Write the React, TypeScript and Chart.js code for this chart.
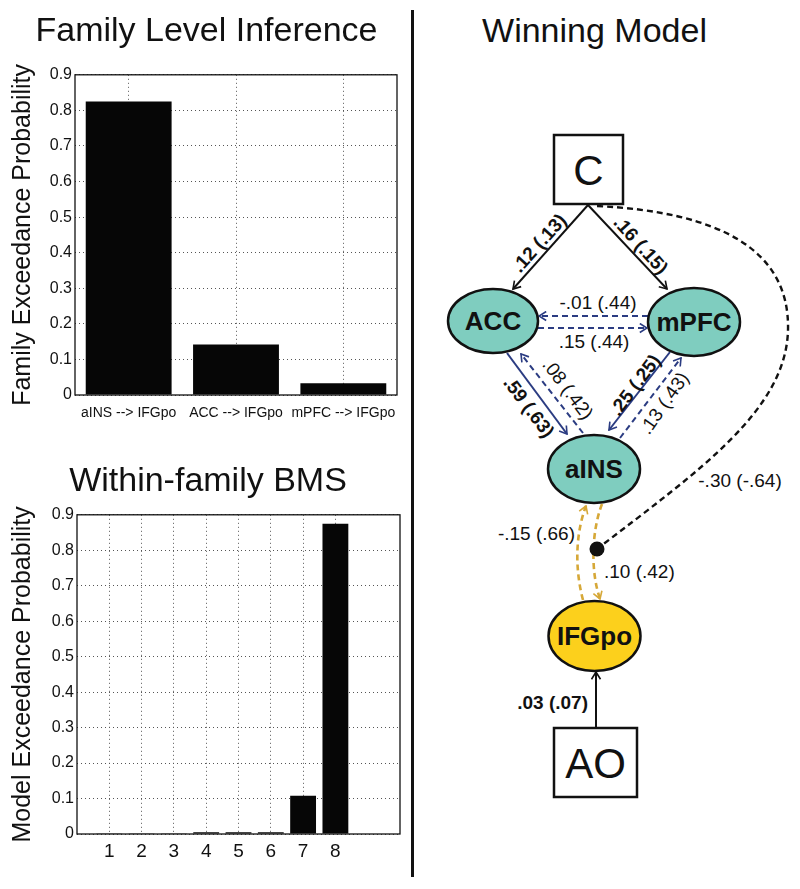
import React, { useEffect, useRef } from 'react';
import { Chart, registerables } from 'chart.js';

Chart.register(...registerables);

// ---------- data ----------
const familyLabels = ['aINS --> IFGpo', 'ACC --> IFGpo', 'mPFC --> IFGpo'];
const familyProbs = [0.825, 0.142, 0.033];

const modelLabels = [1, 2, 3, 4, 5, 6, 7, 8];
const modelProbs = [0.002, 0.002, 0.002, 0.005, 0.005, 0.005, 0.108, 0.875];

const yTickLabels = ['0', '0.1', '0.2', '0.3', '0.4', '0.5', '0.6', '0.7', '0.8', '0.9'];

const nodeNames = ['ACC', 'mPFC', 'aINS', 'IFGpo'];
const inputNames = ['C', 'AO'];
const edgeWeights = [
  '.12 (.13)', '.16 (.15)', '-.01 (.44)', '.15 (.44)', '.59 (.63)', '.08 (.42)',
  '.25 (.25)', '.13 (.43)', '-.15 (.66)', '.10 (.42)', '.03 (.07)', '-.30 (-.64)',
];

// ---------- styles ----------
const FONT = '"Liberation Sans", Arial, Helvetica, sans-serif';
const INK = '#111111';
const BAR = '#060606';
const GRID = '#555555';
const TEAL = '#7FCDBF';
const GOLD_FILL = '#FCD01C';
const NAVY = '#2B3C82';
const GOLD = '#D6A838';

const framePlugin = {
  id: 'frame',
  afterDatasetsDraw(chart: any) {
    const { ctx, chartArea } = chart;
    const { left, top, right, bottom } = chartArea;
    ctx.save();
    ctx.strokeStyle = INK;
    ctx.lineWidth = 1.3;
    ctx.setLineDash([]);
    ctx.strokeRect(left, top, right - left, bottom - top);
    ctx.restore();
  },
};

function yAxis(title: string, width: number, titlePad: number) {
  return {
    min: 0,
    max: 0.9,
    ticks: {
      stepSize: 0.1,
      callback: (v: number) => yTickLabels[Math.round(v * 10)],
      font: { family: FONT, size: 16 },
      color: INK,
      padding: 3,
    },
    grid: { color: GRID, drawTicks: false, lineWidth: 1 },
    border: { display: false, dash: [1, 3] },
    title: {
      display: true,
      text: title,
      font: { family: FONT, size: 25 },
      color: INK,
      padding: { top: titlePad, bottom: 0 },
    },
    afterFit(s: any) {
      s.width = width;
    },
  };
}

function FamilyChart() {
  const ref = useRef<HTMLCanvasElement>(null);
  useEffect(() => {
    const chart = new Chart(ref.current!, {
      type: 'bar',
      data: {
        labels: familyLabels,
        datasets: [
          {
            data: familyProbs,
            backgroundColor: BAR,
            categoryPercentage: 1,
            barPercentage: 0.8,
          },
        ],
      },
      options: {
        animation: false,
        responsive: false,
        events: [],
        layout: { padding: { top: 0, right: 13, left: 16, bottom: 0 } },
        plugins: {
          legend: { display: false },
          tooltip: { enabled: false },
          title: {
            display: true,
            text: 'Family Level Inference',
            font: { family: FONT, size: 34, weight: 'normal' },
            color: INK,
            padding: { top: 11, bottom: 23 },
          },
        },
        scales: {
          x: {
            grid: { offset: false, color: GRID, drawTicks: false },
            border: { display: false, dash: [1, 3] },
            ticks: {
              font: { family: FONT, size: 14 },
              color: INK,
              padding: 10,
              maxRotation: 0,
              autoSkip: false,
            },
            afterFit(s: any) {
              s.height = 35;
            },
          },
          y: yAxis('Family Exceedance Probability', 59, -8),
        },
      } as any,
      plugins: [framePlugin],
    });
    return () => chart.destroy();
  }, []);
  return (
    <canvas
      ref={ref}
      width={410}
      height={430}
      style={{ position: 'absolute', left: 0, top: 0, width: 410, height: 430 }}
    />
  );
}

function ModelChart() {
  const ref = useRef<HTMLCanvasElement>(null);
  useEffect(() => {
    const chart = new Chart(ref.current!, {
      type: 'bar',
      data: {
        datasets: [
          {
            data: modelLabels.map((x, i) => ({ x, y: modelProbs[i] })),
            backgroundColor: BAR,
            categoryPercentage: 1,
            barPercentage: 0.8,
          },
        ],
      },
      options: {
        animation: false,
        responsive: false,
        events: [],
        layout: { padding: { top: 0, right: 10, left: 16, bottom: 0 } },
        plugins: {
          legend: { display: false },
          tooltip: { enabled: false },
          title: {
            display: true,
            text: 'Within-family BMS',
            font: { family: FONT, size: 34, weight: 'normal' },
            color: INK,
            padding: { top: 21, bottom: 13 },
          },
        },
        scales: {
          x: {
            type: 'linear',
            min: 0,
            max: 10,
            offset: false,
            afterBuildTicks(s: any) {
              s.ticks = modelLabels.map((v) => ({ value: v }));
            },
            grid: { offset: false, color: GRID, drawTicks: false },
            border: { display: false, dash: [1, 3] },
            ticks: {
              font: { family: FONT, size: 19 },
              color: INK,
              padding: 6,
              maxRotation: 0,
              autoSkip: false,
              callback: (v: number) => String(v),
            },
            afterFit(s: any) {
              s.height = 46;
            },
          },
          y: yAxis('Model Exceedance Probability', 61, -8),
        },
      } as any,
      plugins: [framePlugin],
    });
    return () => chart.destroy();
  }, []);
  return (
    <canvas
      ref={ref}
      width={410}
      height={440}
      style={{ position: 'absolute', left: 0, top: 440, width: 410, height: 440 }}
    />
  );
}

// ---------- diagram layout (page coordinates) ----------
const nodeLayout = [
  { cx: 493, cy: 321, rx: 45, ry: 32, fill: TEAL },
  { cx: 694, cy: 322, rx: 46, ry: 34, fill: TEAL },
  { cx: 594, cy: 469, rx: 46, ry: 34, fill: TEAL },
  { cx: 594.5, cy: 636, rx: 46, ry: 35, fill: GOLD_FILL },
];
const inputLayout = [
  { x: 554, y: 135, w: 69, h: 69 },
  { x: 554, y: 728, w: 83, h: 69 },
];

type EdgeLayout = {
  d: string;
  color: string;
  dashed: boolean;
  arrow: boolean;
  lx: number;
  ly: number;
  rot: number;
  bold: boolean;
  anchor: 'start' | 'middle' | 'end';
};

const edgeLayout: EdgeLayout[] = [
  { d: 'M588 205 L513 289', color: INK, dashed: false, arrow: true, lx: 539, ly: 243, rot: -48, bold: true, anchor: 'middle' },
  { d: 'M588 205 L667 289', color: INK, dashed: false, arrow: true, lx: 641, ly: 245, rot: 48, bold: true, anchor: 'middle' },
  { d: 'M648 316 L539 316', color: NAVY, dashed: true, arrow: true, lx: 598, ly: 302, rot: 0, bold: false, anchor: 'middle' },
  { d: 'M538 328 L647 328', color: NAVY, dashed: true, arrow: true, lx: 594, ly: 341, rot: 0, bold: false, anchor: 'middle' },
  { d: 'M507 353 L567 434', color: NAVY, dashed: false, arrow: true, lx: 529, ly: 407, rot: 53, bold: true, anchor: 'middle' },
  { d: 'M583 433 L521 354', color: NAVY, dashed: true, arrow: true, lx: 568, ly: 389, rot: 53, bold: false, anchor: 'middle' },
  { d: 'M670 352 L609 430', color: NAVY, dashed: false, arrow: true, lx: 635, ly: 385, rot: -53, bold: true, anchor: 'middle' },
  { d: 'M620 438 L681 358', color: NAVY, dashed: true, arrow: true, lx: 664, ly: 403, rot: -55, bold: false, anchor: 'middle' },
  { d: 'M583 600 C575 570, 575 535, 586 506', color: GOLD, dashed: true, arrow: true, lx: 575, ly: 533, rot: 0, bold: false, anchor: 'end' },
  { d: 'M602 504 C592 530, 590 570, 600 599', color: GOLD, dashed: true, arrow: true, lx: 604, ly: 571, rot: 0, bold: false, anchor: 'start' },
  { d: 'M596 728 L596 672', color: INK, dashed: false, arrow: true, lx: 588, ly: 702, rot: 0, bold: true, anchor: 'end' },
  { d: 'M597 206 C720 212, 790 250, 788 330 C786 410, 700 470, 597 549', color: INK, dashed: true, arrow: false, lx: 740, ly: 480, rot: 0, bold: false, anchor: 'middle' },
];

function markerId(color: string) {
  return 'ah' + color.replace('#', '');
}

function Diagram() {
  const colors = [INK, NAVY, GOLD];
  return (
    <svg
      width={386}
      height={889}
      viewBox="414 0 386 889"
      style={{ position: 'absolute', left: 414, top: 0 }}
      fontFamily={FONT}
    >
      <defs>
        {colors.map((c) => (
          <marker
            key={c}
            id={markerId(c)}
            viewBox="0 0 10 12"
            refX="9"
            refY="6"
            markerWidth="9"
            markerHeight="11"
            markerUnits="userSpaceOnUse"
            orient="auto"
          >
            <path d="M1 1 L9 6 L1 11" fill="none" stroke={c} strokeWidth="1.8" />
          </marker>
        ))}
      </defs>

      <text x={594.5} y={42} textAnchor="middle" fontSize={34} fill={INK}>
        Winning Model
      </text>

      {edgeLayout.map((e, i) => (
        <path
          key={'e' + i}
          d={e.d}
          fill="none"
          stroke={e.color}
          strokeWidth={e.color === GOLD ? 2.6 : e.dashed && e.color === INK ? 2.4 : 2}
          strokeDasharray={e.dashed ? '6 4' : undefined}
          markerEnd={e.arrow ? `url(#${markerId(e.color)})` : undefined}
        />
      ))}

      <circle cx={597} cy={549} r={7.5} fill={INK} />

      {nodeLayout.map((n, i) => (
        <g key={'n' + i}>
          <ellipse cx={n.cx} cy={n.cy} rx={n.rx} ry={n.ry} fill={n.fill} stroke={INK} strokeWidth={2.5} />
          <text
            x={n.cx}
            y={n.cy}
            textAnchor="middle"
            dominantBaseline="central"
            fontSize={26}
            fontWeight="bold"
            fill={INK}
          >
            {nodeNames[i]}
          </text>
        </g>
      ))}

      {inputLayout.map((b, i) => (
        <g key={'b' + i}>
          <rect x={b.x} y={b.y} width={b.w} height={b.h} fill="#fff" stroke={INK} strokeWidth={2.5} />
          <text
            x={b.x + b.w / 2}
            y={b.y + b.h / 2 + 1}
            textAnchor="middle"
            dominantBaseline="central"
            fontSize={42}
            fill={INK}
          >
            {inputNames[i]}
          </text>
        </g>
      ))}

      {edgeLayout.map((e, i) => (
        <text
          key={'l' + i}
          transform={`translate(${e.lx} ${e.ly}) rotate(${e.rot})`}
          textAnchor={e.anchor}
          dominantBaseline="central"
          fontSize={19}
          fontWeight={e.bold ? 'bold' : 'normal'}
          fill={INK}
        >
          {edgeWeights[i]}
        </text>
      ))}
    </svg>
  );
}

export default function App() {
  return (
    <div
      style={{
        position: 'absolute',
        left: 0,
        top: 0,
        width: 800,
        height: 889,
        background: '#ffffff',
        overflow: 'hidden',
      }}
    >
      <FamilyChart />
      <ModelChart />
      <div style={{ position: 'absolute', left: 411, top: 10, width: 3, height: 867, background: INK }} />
      <Diagram />
    </div>
  );
}
